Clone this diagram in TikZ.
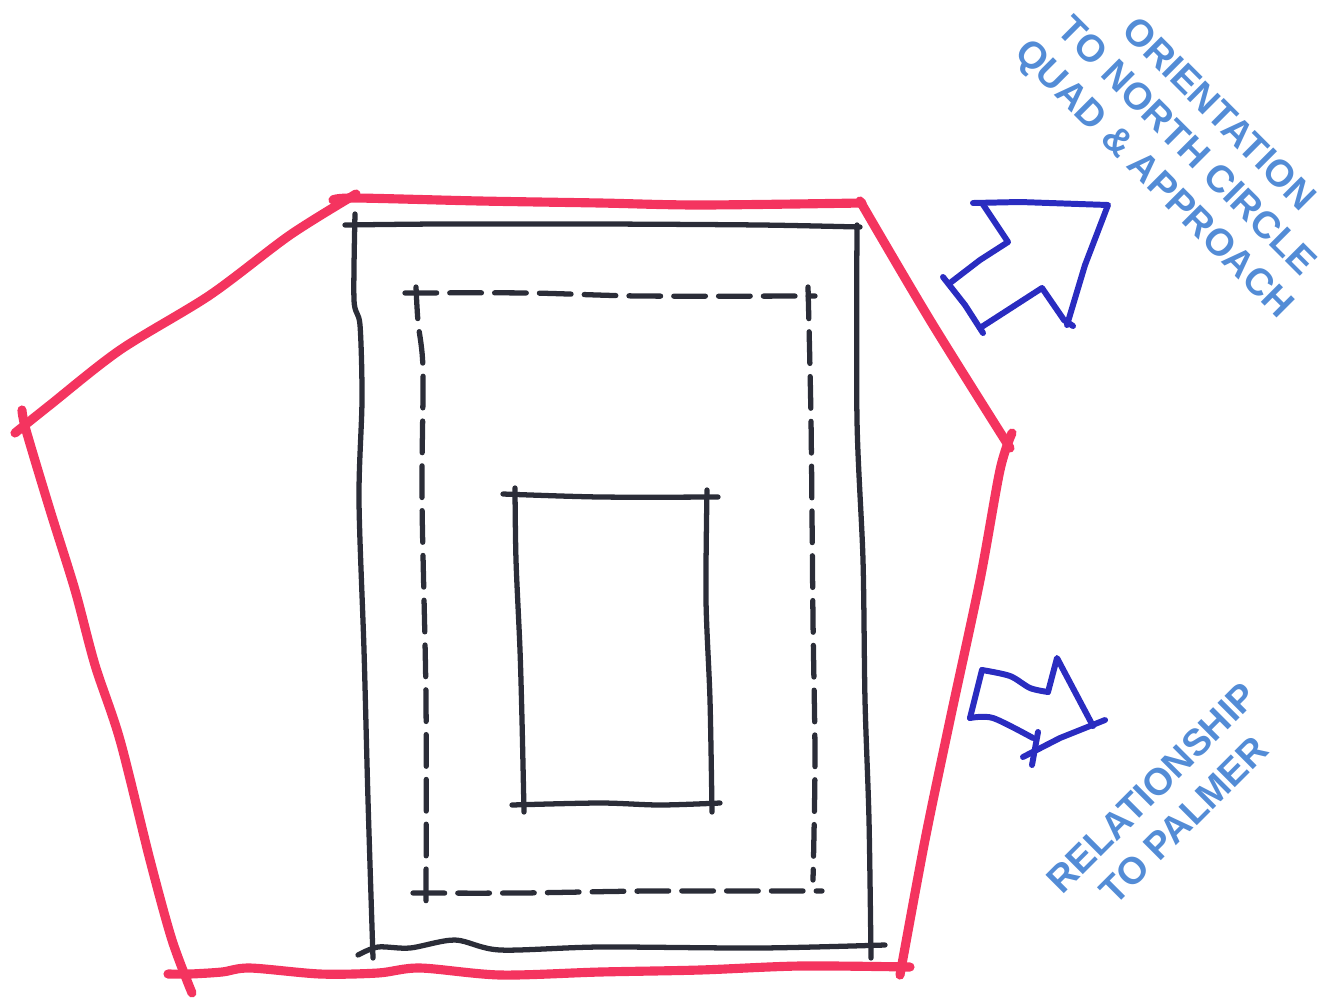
\documentclass[tikz,border=0pt]{standalone}
\usepackage{fontspec}
\setmainfont{Liberation Sans}
\definecolor{penred}{HTML}{F4345F}
\definecolor{penblack}{HTML}{2B2D38}
\definecolor{penblue}{HTML}{2A2CC0}
\definecolor{labelblue}{HTML}{538CD6}
\tikzset{
  redline/.style={draw=penred, line width=5.2pt, line cap=round, line join=round},
  blackline/.style={draw=penblack, line width=3pt, line cap=round, line join=round},
  dashline/.style={blackline, dash pattern=on 18pt off 7.5pt},
  blueline/.style={draw=penblue, line width=3.4pt, line cap=round, line join=round},
  arealabel/.style={text=labelblue, font=\fontsize{21.5}{26}\selectfont\bfseries, align=center, inner sep=0pt}
}

\begin{document}
\begin{tikzpicture}[x=0.02cm, y=-0.02cm]
  \useasboundingbox (0,0) rectangle (1332,1005);

  % site outline
  \draw[redline] plot[smooth] coordinates {(333,200) (355,198) (480,201) (600,203) (700,205) (862,203)};
  \draw[redline] plot[smooth] coordinates {(860,201) (930,320) (1010,448)};
  \draw[redline] plot[smooth] coordinates {(1012,433) (1000,470) (980,580) (950,720) (925,840) (900,975)};
  \draw[redline] plot[smooth] coordinates {(168,974) (190,974) (222,972) (250,968) (320,974) (378,973) (420,968) (500,975) (600,972) (700,970) (800,966) (910,967)};
  \draw[redline] plot[smooth] coordinates {(22,410) (26,430) (50,510) (75,590) (95,665) (120,740) (150,860) (172,940) (192,993)};
  \draw[redline] plot[smooth] coordinates {(15,433) (50,405) (120,350) (210,295) (290,235) (356,194)};

  % outer building line
  \draw[blackline] plot[smooth] coordinates {(345,225) (440,224) (600,224) (760,225) (860,227)};
  \draw[blackline] plot[smooth] coordinates {(355,214) (354,300) (360,325) (362,400) (359,500) (364,650) (368,800) (373,958)};
  \draw[blackline] plot[smooth] coordinates {(857,225) (857,420) (863,560) (865,700) (869,820) (871,958)};
  \draw[blackline] plot[smooth] coordinates {(358,955) (378,947) (410,948) (455,940) (500,950) (600,947) (760,948) (885,945)};

  % setback
  \draw[dashline] plot[smooth] coordinates {(405,293) (530,293) (640,296) (815,296)};
  \draw[dashline] plot[smooth] coordinates {(416,287) (418,322) (423,370) (422,500) (426,700) (426,903)};
  \draw[dashline] plot[smooth] coordinates {(808,287) (811,420) (813,620) (815,760) (813,880)};
  \draw[dashline] plot[smooth] coordinates {(413,893) (520,893) (650,891) (822,891)};

  % inner court
  \draw[blackline] plot[smooth] coordinates {(503,494) (600,497) (718,497)};
  \draw[blackline] plot[smooth] coordinates {(515,488) (516,560) (520,650) (522,720) (524,812)};
  \draw[blackline] plot[smooth] coordinates {(707,490) (706,600) (710,700) (712,812)};
  \draw[blackline] plot[smooth] coordinates {(512,805) (600,803) (660,805) (720,803)};

  % upper arrow
  \draw[blueline] (973,203) -- (1020,202) -- (1108,205) -- (1085,265) -- (1067,325);
  \draw[blueline] (1073,326) -- (1064,320) -- (1042,288) -- (980,328);
  \draw[blueline] (983,333) -- (965,305) -- (943,277);
  \draw[blueline] (950,283) -- (980,260) -- (1008,242) -- (982,203);

  % lower arrow
  \draw[blueline] plot[smooth] coordinates {(982,670) (1010,676) (1030,688) (1048,692)};
  \draw[blueline] (1048,692) -- (1057,658) -- (1093,726);
  \draw[blueline] (1105,720) -- (1060,738) -- (1023,757);
  \draw[blueline] (1038,732) -- (1032,765);
  \draw[blueline] plot[smooth] coordinates {(970,718) (993,718) (1033,738)};
  \draw[blueline] (982,670) -- (970,718);

  \node[arealabel, rotate=-45] (orientation) at (1185,148) {ORIENTATION\\TO NORTH CIRCLE\\QUAD \& APPROACH};
  \node[arealabel, rotate=45] (relationship) at (1168,804) {RELATIONSHIP\\TO PALMER};
\end{tikzpicture}
\end{document}
